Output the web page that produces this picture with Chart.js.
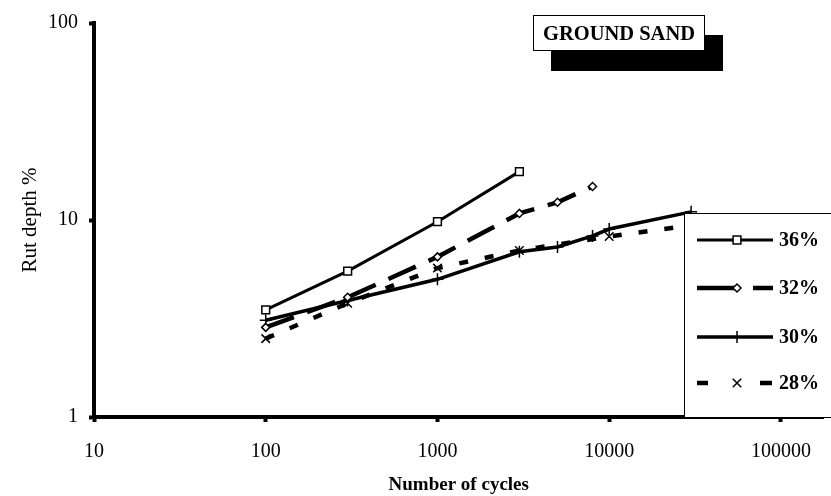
<!DOCTYPE html>
<html>
<head>
<meta charset="utf-8">
<script src="https://cdn.jsdelivr.net/npm/chart.js@4.4.0/dist/chart.umd.min.js"></script>
<style>
  html, body { margin: 0; padding: 0; background: #fff; }
  #wrap { position: relative; width: 831px; height: 496px; }
  #title {
    position: absolute; left: 533px; top: 15px; width: 170px; height: 34px;
    border: 1px solid #000; background: #fff; box-shadow: 18px 20px 0 #000;
    font: bold 20.5px "Liberation Serif", serif; line-height: 35px; text-align: center;
    white-space: nowrap;
  }
</style>
</head>
<body>
<div id="wrap">
  <canvas id="c" width="831" height="496"></canvas>
  <div id="title">GROUND SAND</div>
</div>
<script>
// data
const xTicks = [10, 100, 1000, 10000, 100000];
const yTicks = [1, 10, 100];

const labels = ['36%', '32%', '30%', '28%'];

const cycles36 = [100, 300, 1000, 3000];
const rut36 = [3.5, 5.5, 9.8, 17.6];

const cycles32 = [100, 300, 1000, 3000, 5000, 8000];
const rut32 = [2.85, 4.05, 6.5, 10.8, 12.3, 14.8];

const cycles30 = [100, 300, 1000, 3000, 5000, 8000, 10000, 30000];
const rut30 = [3.1, 3.9, 5.0, 6.9, 7.3, 8.3, 9.0, 11.0];

const cycles28 = [100, 300, 1000, 3000, 10000, 30000];
const rut28 = [2.5, 3.78, 5.7, 7.0, 8.25, 9.4];

const pts = (xs, ys) => xs.map((x, i) => ({ x: x, y: ys[i] }));

const serif = '"Liberation Serif", "Times New Roman", serif';

// legendDash: the pattern used for the short sample in the legend box
const datasets = [
  { label: labels[0], data: pts(cycles36, rut36), borderWidth: 3, borderDash: [],
    legendDash: [], pointStyle: 'rect', pointRadius: 5.5 },
  { label: labels[1], data: pts(cycles32, rut32), borderWidth: 4.5, borderDash: [30, 14],
    legendDash: [40, 16, 20], pointStyle: 'rectRot', pointRadius: 4 },
  { label: labels[2], data: pts(cycles30, rut30), borderWidth: 3.5, borderDash: [],
    legendDash: [], pointStyle: 'cross', pointRadius: 6 },
  { label: labels[3], data: pts(cycles28, rut28), borderWidth: 4.5, borderDash: [9, 17],
    legendDash: [11, 52, 12], pointStyle: 'crossRot', pointRadius: 6 },
].map(d => Object.assign({
  borderColor: '#000', pointBorderColor: '#000', pointBackgroundColor: '#fff',
  pointBorderWidth: 1.5, tension: 0, fill: false,
}, d));

// boxed legend sitting on top of the lines, lower right
const boxLegend = {
  id: 'boxLegend',
  afterDatasetsDraw(chart) {
    const ctx = chart.ctx;
    const area = chart.chartArea;
    const left = 684, top = 213, right = 840;
    ctx.save();
    ctx.fillStyle = '#fff';
    ctx.strokeStyle = '#000';
    ctx.lineWidth = 1;
    ctx.fillRect(left, top, right - left, area.bottom - top);
    ctx.strokeRect(left + 0.5, top + 0.5, right - left, area.bottom - top);
    const rows = [240, 288, 337, 383];
    chart.data.datasets.forEach((ds, i) => {
      const y = rows[i];
      ctx.save();
      ctx.strokeStyle = '#000';
      ctx.lineWidth = ds.borderWidth;
      ctx.setLineDash(ds.legendDash);
      ctx.beginPath();
      ctx.moveTo(697, y);
      ctx.lineTo(773, y);
      ctx.stroke();
      ctx.setLineDash([]);
      ctx.fillStyle = '#fff';
      ctx.lineWidth = ds.pointBorderWidth;
      Chart.helpers.drawPoint(ctx, {
        pointStyle: ds.pointStyle, radius: ds.pointRadius, borderWidth: ds.pointBorderWidth, rotation: 0
      }, 737, y);
      ctx.restore();
      ctx.fillStyle = '#000';
      ctx.font = 'bold 20px ' + serif;
      ctx.textBaseline = 'middle';
      ctx.textAlign = 'left';
      ctx.fillText(ds.label, 779, y + 1);
    });
    ctx.restore();
  }
};

new Chart(document.getElementById('c'), {
  type: 'line',
  data: { datasets: datasets },
  plugins: [boxLegend],
  options: {
    responsive: false,
    animation: false,
    layout: { padding: { top: 22, right: 0, left: 0, bottom: 0 } },
    plugins: { legend: { display: false }, tooltip: { enabled: false } },
    scales: {
      x: {
        type: 'logarithmic',
        min: 10,
        max: 177000,
        afterBuildTicks: s => { s.ticks = xTicks.map(v => ({ value: v })); },
        afterFit: s => { s.height = 79; },
        border: { display: true, color: '#000', width: 4 },
        grid: { drawOnChartArea: false, drawTicks: true, tickLength: 5, tickWidth: 4, tickColor: '#000' },
        ticks: {
          autoSkip: false, maxRotation: 0, color: '#000', padding: 18,
          font: { family: serif, size: 20 },
          callback: v => String(v)
        },
        title: {
          display: true, text: 'Number of cycles', color: '#000',
          font: { family: serif, size: 19, weight: 'bold' }, padding: { top: 11, bottom: 0 }
        }
      },
      y: {
        type: 'logarithmic',
        min: 1,
        max: 100,
        afterBuildTicks: s => { s.ticks = yTicks.map(v => ({ value: v })); },
        afterFit: s => { s.width = 94; },
        border: { display: true, color: '#000', width: 4 },
        grid: { drawOnChartArea: false, drawTicks: true, tickLength: 5, tickWidth: 4, tickColor: '#000' },
        ticks: {
          autoSkip: false, color: '#000', padding: 11,
          font: { family: serif, size: 20 },
          callback: v => String(v)
        },
        title: {
          display: true, text: 'Rut depth %', color: '#000',
          font: { family: serif, size: 21 }, padding: { top: 18, bottom: 0 }
        }
      }
    }
  }
});
</script>
</body>
</html>
